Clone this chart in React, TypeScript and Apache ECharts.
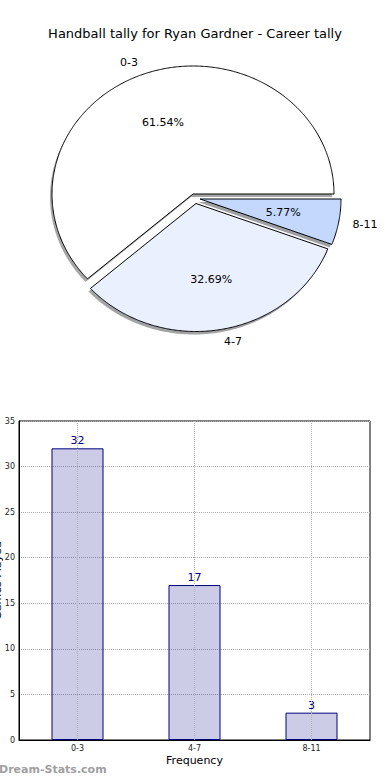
import React, { useEffect, useRef } from "react";
import * as echarts from "echarts";

// ---- data ----
const TITLE = "Handball tally for Ryan Gardner - Career tally";
const categories = ["0-3", "4-7", "8-11"];
const games = [32, 17, 3];
const yMin = 0;
const yMax = 35;
const yInterval = 5;
const xAxisName = "Frequency";
const yAxisName = "Games Played";
const watermark = "Dream-Stats.com";

// ---- styles / geometry ----
const FONT = "DejaVu Sans";
const pieColors = ["#ffffff", "#eaf0fe", "#c4d8fe"];
const PIE = { cx: 193, cy: 194, rx: 141, ry: 128 };
const EXPLODE: number[][] = [
  [0, 0],
  [3, 9.5],
  [7, 5],
];
const SHADOW = [-2, 3];

const total = games.reduce((a, b) => a + b, 0);

function sliceAngles(i: number): [number, number] {
  let s = 0;
  for (let k = 0; k < i; k++) s += games[k];
  return [(s / total) * 360, ((s + games[i]) / total) * 360];
}

function wedgePoints(i: number, dx: number, dy: number) {
  const [a0, a1] = sliceAngles(i);
  const cx = PIE.cx + EXPLODE[i][0] + dx;
  const cy = PIE.cy + EXPLODE[i][1] + dy;
  const pts: number[][] = [[cx, cy]];
  const n = Math.max(4, Math.ceil((a1 - a0) * 2));
  for (let k = 0; k <= n; k++) {
    const a = ((a0 + ((a1 - a0) * k) / n) * Math.PI) / 180;
    pts.push([cx + PIE.rx * Math.cos(a), cy - PIE.ry * Math.sin(a)]);
  }
  return pts;
}

function shadowColor(hex: string) {
  const r = parseInt(hex.slice(1, 3), 16);
  const g = parseInt(hex.slice(3, 5), 16);
  const b = parseInt(hex.slice(5, 7), 16);
  return `rgba(${Math.round(r * 0.3)},${Math.round(g * 0.3)},${Math.round(b * 0.3)},0.5)`;
}

export default function App() {
  const ref = useRef<HTMLDivElement>(null);

  useEffect(() => {
    if (!ref.current) return;
    const chart = echarts.init(ref.current, null, { renderer: "svg" });

    const pieData = games.map((v, i) => ({ value: v, name: categories[i] }));

    const option: any = {
      animation: false,
      backgroundColor: "#ffffff",
      title: {
        text: TITLE,
        left: "center",
        top: 22,
        textStyle: { fontFamily: FONT, fontSize: 13, fontWeight: "normal", color: "#000" },
      },
      grid: {
        left: 19,
        right: 20,
        top: 421,
        bottom: 40,
        containLabel: false,
        outerBoundsMode: "none",
        show: true,
        borderColor: "#000",
        borderWidth: 1,
        backgroundColor: "transparent",
      },
      xAxis: {
        type: "category",
        data: categories,
        axisLine: { lineStyle: { color: "#000", width: 1 } },
        axisTick: { show: false },
        axisLabel: { fontFamily: FONT, fontSize: 8, color: "#222", margin: 4 },
        splitLine: { show: false },
        name: xAxisName,
        nameLocation: "middle",
        nameGap: 15,
        nameMoveOverlap: false,
        nameTextStyle: { fontFamily: FONT, fontSize: 11, color: "#000" },
      },
      yAxis: {
        type: "value",
        min: yMin,
        max: yMax,
        interval: yInterval,
        axisLine: { show: true, lineStyle: { color: "#000", width: 1 } },
        axisTick: { show: false },
        axisLabel: { fontFamily: FONT, fontSize: 8, color: "#222", margin: 4 },
        splitLine: { show: true, lineStyle: { type: "dotted", color: "#b0b0b0", width: 1 } },
        name: yAxisName,
        nameLocation: "middle",
        nameGap: 16,
        nameMoveOverlap: false,
        nameTextStyle: { fontFamily: FONT, fontSize: 11, color: "#000" },
      },
      series: [
        {
          type: "custom",
          coordinateSystem: "none",
          data: pieData,
          silent: true,
          z: 1,
          renderItem: (params: any) => {
            const i = params.dataIndex;
            return {
              type: "polygon",
              shape: { points: wedgePoints(i, SHADOW[0], SHADOW[1]) },
              style: { fill: shadowColor(pieColors[i]), stroke: "none" },
            };
          },
        },
        {
          type: "custom",
          coordinateSystem: "none",
          data: pieData,
          silent: true,
          z: 2,
          renderItem: (params: any) => {
            const i = params.dataIndex;
            const [a0, a1] = sliceAngles(i);
            const mid = (((a0 + a1) / 2) * Math.PI) / 180;
            const cx = PIE.cx + EXPLODE[i][0];
            const cy = PIE.cy + EXPLODE[i][1];
            const c = Math.cos(mid);
            const s = Math.sin(mid);
            const pct = ((games[i] / total) * 100).toFixed(2) + "%";
            return {
              type: "group",
              children: [
                {
                  type: "polygon",
                  shape: { points: wedgePoints(i, 0, 0) },
                  style: { fill: pieColors[i], stroke: "#000", lineWidth: 1, lineJoin: "miter" },
                },
                {
                  type: "text",
                  x: cx + 0.6 * PIE.rx * c,
                  y: cy - 0.6 * PIE.ry * s,
                  style: {
                    text: pct,
                    fontFamily: FONT,
                    fontSize: 11,
                    fill: "#000",
                    align: "center",
                    verticalAlign: "middle",
                  },
                },
                {
                  type: "text",
                  x: cx + 1.1 * PIE.rx * c,
                  y: cy - 1.1 * PIE.ry * s,
                  style: {
                    text: categories[i],
                    fontFamily: FONT,
                    fontSize: 11,
                    fill: "#000",
                    align: c >= 0 ? "left" : "right",
                    verticalAlign: "middle",
                  },
                },
              ],
            };
          },
        },
        {
          type: "bar",
          data: games,
          barWidth: 52,
          itemStyle: { color: "rgba(0,0,128,0.2)", borderColor: "#000080", borderWidth: 1 },
          label: {
            show: true,
            position: "top",
            distance: 2,
            fontFamily: FONT,
            fontSize: 11,
            color: "#000080",
          },
          markLine: {
            silent: true,
            symbol: ["none", "none"],
            label: { show: false },
            lineStyle: { type: "dotted", color: "#b0b0b0", width: 1 },
            data: categories.map((c) => ({ xAxis: c })),
          },
        },
      ],
      graphic: [
        {
          type: "text",
          left: -1,
          top: 764,
          style: {
            text: watermark,
            fontFamily: FONT,
            fontSize: 11,
            fontWeight: "bold",
            fill: "#a0a0a0",
          },
        },
      ],
    };

    chart.setOption(option);
    return () => chart.dispose();
  }, []);

  return (
    <div
      ref={ref}
      style={{ position: "absolute", left: 0, top: 0, width: 390, height: 780 }}
    />
  );
}
